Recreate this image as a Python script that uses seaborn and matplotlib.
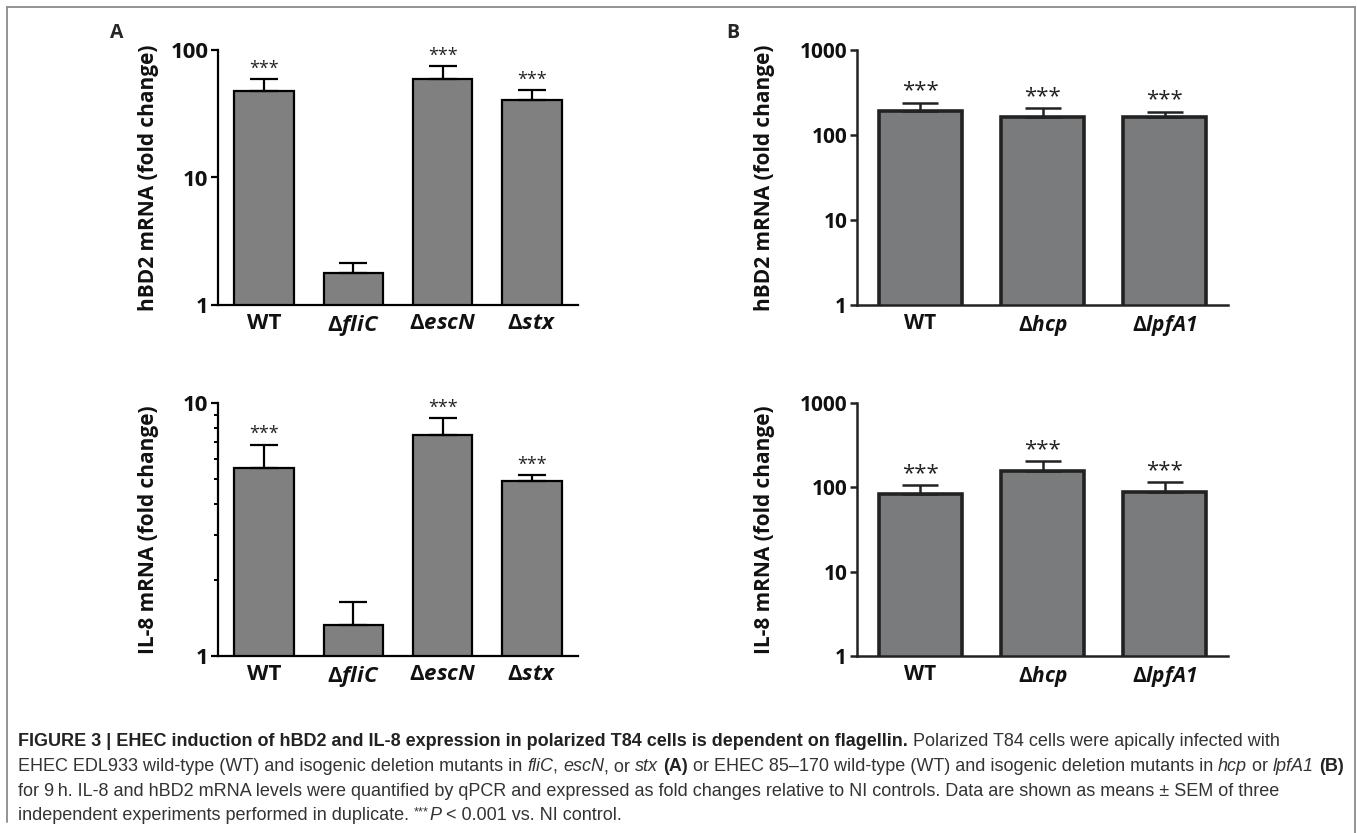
import numpy as np
import pandas as pd
import seaborn as sns
import matplotlib.pyplot as plt
from matplotlib.lines import Line2D
from matplotlib.ticker import LogLocator, NullFormatter

sns.set_theme(style="ticks")
plt.rcParams['font.family'] = ['Open Sans', 'DejaVu Sans']
plt.rcParams['mathtext.fontset'] = 'custom'
plt.rcParams['mathtext.rm'] = 'Open Sans:bold'
plt.rcParams['mathtext.it'] = 'Open Sans:italic:bold'
plt.rcParams['mathtext.bf'] = 'Open Sans:bold'
plt.rcParams['mathtext.sf'] = 'Open Sans:italic:bold'

# panel A (EDL933)
a_labels = ["WT", r"$\Delta\mathit{fliC}$", r"$\Delta\mathit{escN}$", r"$\Delta\mathit{stx}$"]
a_hbd2 = [48, 1.78, 59, 40.5]
a_hbd2_up = [59, 2.14, 75, 48.5]
a_il8 = [5.53, 1.33, 7.5, 4.92]
a_il8_up = [6.85, 1.64, 8.73, 5.2]
a_stars = ["***", "", "***", "***"]

# panel B (85-170)
b_labels = ["WT", r"$\Delta\mathit{hcp}$", r"$\Delta\mathit{lpfA}\mathsf{1}$"]
b_hbd2 = [192, 165, 162]
b_hbd2_up = [241, 206, 187]
b_il8 = [84, 157, 89]
b_il8_up = [106, 204, 115]
b_stars = ["***", "***", "***"]

W, H = 1357, 833
fig = plt.figure(figsize=(W / 100, H / 100), dpi=100)


def px_ax(x0, y0, x1, y1):
    return fig.add_axes([x0 / W, 1 - y1 / H, (x1 - x0) / W, (y1 - y0) / H])


def panel(ax, labels, vals, ups, stars, ylim, ylabel, st):
    df = pd.DataFrame({"strain": labels, "val": vals})
    sns.barplot(data=df, x="strain", y="val", ax=ax, color=st["fill"],
                saturation=1, width=st["bw"], edgecolor=st["edge"],
                linewidth=st["blw"], errorbar=None)
    ax.set_yscale("log")
    ax.set_ylim(*ylim)
    ax.set_xlim(-0.52, len(labels) - 0.48)
    x = np.arange(len(labels))
    v = np.array(vals)
    u = np.array(ups)
    ax.errorbar(x, v, yerr=[np.zeros_like(v), u - v], fmt="none",
                ecolor=st["edge"], elinewidth=st["elw"], capsize=st["cap"],
                capthick=st["elw"], zorder=1)
    for xi, ui, s in zip(x, u, stars):
        if s:
            ax.annotate(s, (xi, ui), xytext=(0, 1), textcoords="offset points",
                        ha="center", va="bottom", fontsize=st["star"], color="#222222")
    ax.set_xlabel("")
    ax.set_ylabel(ylabel, fontsize=15, fontweight="bold", color="#111111")
    ax.yaxis.set_label_coords(st["labx"], 0.5)
    sns.despine(ax=ax)
    for s in ("left", "bottom"):
        ax.spines[s].set_linewidth(st["alw"])
        ax.spines[s].set_color(st["edge"])
    ax.tick_params(axis="x", length=0, pad=6, labelsize=st["tick"])
    ax.tick_params(axis="y", which="major", length=5, width=st["alw"],
                   color=st["edge"], labelsize=st["tick"], pad=2)
    ax.set_facecolor("none")


sa = dict(fill="#808080", edge="#000000", bw=0.67, blw=1.6, elw=1.6, cap=10,
          star=13, alw=1.6, tick=16, labx=-0.165)
sb = dict(fill="#797b7d", edge="#222222", bw=0.68, blw=2.6, elw=1.8, cap=13,
          star=16, alw=1.8, tick=15, labx=-0.222)

ax1 = px_ax(218, 50, 578, 305)
panel(ax1, a_labels, a_hbd2, a_hbd2_up, a_stars, (1, 100), "hBD2 mRNA (fold change)", sa)
ax1.set_yticks([1, 10, 100], ["1", "10", "100"])
ax1.yaxis.set_minor_locator(LogLocator(subs=[]))

ax2 = px_ax(218, 403, 578, 656)
panel(ax2, a_labels, a_il8, a_il8_up, a_stars, (1, 10), "IL-8 mRNA (fold change)", sa)
ax2.set_yticks([1, 10], ["1", "10"])
ax2.yaxis.set_minor_locator(LogLocator(subs=np.arange(2, 10)))
ax2.yaxis.set_minor_formatter(NullFormatter())
ax2.tick_params(axis="y", which="minor", length=3, width=1.4, color="#000000")

ax3 = px_ax(857, 50, 1228, 305)
panel(ax3, b_labels, b_hbd2, b_hbd2_up, b_stars, (1, 1000), "hBD2 mRNA (fold change)", sb)
ax3.set_yticks([1, 10, 100, 1000], ["1", "10", "100", "1000"])
ax3.yaxis.set_minor_locator(LogLocator(subs=[]))

ax4 = px_ax(857, 403, 1228, 656)
panel(ax4, b_labels, b_il8, b_il8_up, b_stars, (1, 1000), "IL-8 mRNA (fold change)", sb)
ax4.set_yticks([1, 10, 100, 1000], ["1", "10", "100", "1000"])
ax4.yaxis.set_minor_locator(LogLocator(subs=[]))

for ax in (ax1, ax2, ax3, ax4):
    for t in ax.get_xticklabels() + ax.get_yticklabels():
        t.set_fontweight("bold")
        t.set_color("#111111")

fig.text(117 / W, 1 - 33 / H, "A", fontsize=14, fontweight="bold", ha="center", va="center")
fig.text(733 / W, 1 - 33 / H, "B", fontsize=14, fontweight="bold", ha="center", va="center")

# outer frame
fig.add_artist(Line2D([7 / W, 7 / W], [1 - 822 / H, 1 - 7 / H], color="#8a8a8a", lw=1.3))
fig.add_artist(Line2D([7 / W, 1355 / W], [1 - 7 / H, 1 - 7 / H], color="#8a8a8a", lw=1.3))
fig.add_artist(Line2D([1355 / W, 1355 / W], [0, 1 - 7 / H], color="#8a8a8a", lw=1.3))

# caption with mixed styles
cap_font = ['Liberation Sans Narrow', 'Liberation Sans', 'DejaVu Sans']
cap_size = 12.95
R, B, I = "normal", "bold", "italic"
caption = [
    [(B, "FIGURE 3 | EHEC induction of hBD2 and IL-8 expression in polarized T84 cells is dependent on flagellin."),
     (R, " Polarized T84 cells were apically infected with")],
    [(R, "EHEC EDL933 wild-type (WT) and isogenic deletion mutants in "), (I, "fliC"), (R, ", "),
     (I, "escN"), (R, ", or "), (I, "stx"), (R, " "), (B, "(A)"),
     (R, " or EHEC 85\u2013170 wild-type (WT) and isogenic deletion mutants in "), (I, "hcp"),
     (R, " or "), (I, "lpfA1"), (R, " "), (B, "(B)")],
    [(R, "for 9\u2009h. IL-8 and hBD2 mRNA levels were quantified by qPCR and expressed as fold changes "
         "relative to NI controls. Data are shown as means \u00b1 SEM of three")],
    [(R, "independent experiments performed in duplicate. "), ("sup", "***"), (I, "P"),
     (R, " < 0.001 vs. NI control.")],
]
renderer = fig.canvas.get_renderer()


def style_kw(s):
    if s == B:
        return dict(fontweight="bold", color="#222222", fontsize=cap_size)
    if s == I:
        return dict(fontstyle="italic", color="#333333", fontsize=cap_size)
    if s == "sup":
        return dict(color="#333333", fontsize=cap_size * 0.7)
    return dict(color="#333333", fontsize=cap_size)


def run_width(txt, kw):
    a = fig.text(0, 0, txt + "|", family=cap_font, **kw)
    b = fig.text(0, 0, "|", family=cap_font, **kw)
    w = a.get_window_extent(renderer).width - b.get_window_extent(renderer).width
    a.remove()
    b.remove()
    return w


line_y = [746, 771, 796, 820]
for runs, ly in zip(caption, line_y):
    x = 18
    for s, txt in runs:
        kw = style_kw(s)
        yy = ly - 5 if s == "sup" else ly
        fig.text(x / W, 1 - yy / H, txt, family=cap_font, va="baseline", ha="left", **kw)
        x += run_width(txt, kw)

fig.savefig("out.png", dpi=100)
